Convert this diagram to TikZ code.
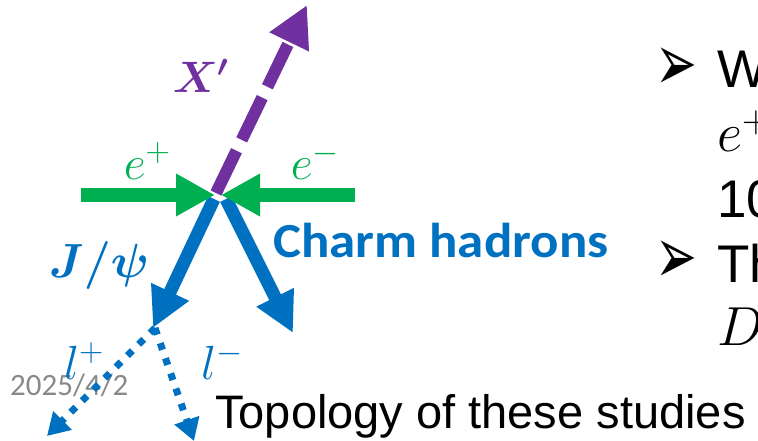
\RequirePackage{fix-cm}
\documentclass[tikz,border=0pt]{standalone}
\usepackage{amsmath,bm}
\usepackage{fontspec}
\newfontfamily\arialf{Liberation Sans}
\newfontfamily\calf{Carlito}
\newfontfamily\dingf{DejaVu Sans}
\usetikzlibrary{arrows.meta}
\definecolor{egreen}{RGB}{0,176,80}
\definecolor{dpurple}{RGB}{112,48,160}
\definecolor{hblue}{RGB}{0,112,192}
\definecolor{dgrey}{RGB}{137,137,137}

\begin{document}
\begin{tikzpicture}[x=1pt,y=-1pt,every node/.style={inner sep=0pt}]
\tikzstyle{beam}=[line width=13pt,egreen,-{Triangle[length=39pt,width=40pt]}]
\tikzstyle{dark}=[line width=12pt,dpurple,dash pattern=on 47pt off 12pt,-{Triangle[length=41pt,width=41pt]}]
\tikzstyle{prod}=[line width=13pt,hblue,-{Triangle[length=40pt,width=39pt]}]
\tikzstyle{lep}=[line width=7pt,hblue,dash pattern=on 7pt off 9pt,-{Triangle[length=22pt,width=25pt]}]
\tikzstyle{lbl}=[font=\fontsize{48}{50}\selectfont]
\tikzstyle{txt}=[font=\arialf\fontsize{53}{56}\selectfont,anchor=base west]
\tikzstyle{mth}=[font=\fontsize{55}{58}\selectfont,anchor=base west]
\tikzstyle{bul}=[font=\dingf\fontsize{50}{54}\selectfont]
\useasboundingbox (0,0) rectangle (758,441);
\clip (0,0) rectangle (758,441);
% end points round the vertex
\coordinate (ein) at (81,195);   \coordinate (eintip) at (215,195);
\coordinate (eout) at (355,195); \coordinate (eouttip) at (221,195);
\coordinate (xs) at (216,193);   \coordinate (xtip) at (307,5);
\coordinate (js) at (214,199);   \coordinate (jtip) at (153,328);
\coordinate (cs) at (226,199);   \coordinate (ctip) at (293,333);
\coordinate (ls) at (155,328);   \coordinate (lptip) at (47,436);
\coordinate (lmtip) at (194,441);
% texts
\node[dgrey,font=\calf\fontsize{31}{33}\selectfont,anchor=base west] (date) at (10,395) {2025/4/2};
\node[font=\fontsize{44}{46}\selectfont,dpurple] (xp) at (201,76) {$\bm{X'}$};
\node[lbl,egreen] (ep) at (147,161) {$e^+$};
\node[lbl,egreen] (em) at (315,161) {$e^-$};
\node[lbl,hblue] (jpsi) at (99,265) {$\bm{J/\psi}$};
\node[hblue,font=\calf\bfseries\fontsize{49}{52}\selectfont,anchor=base west] (ch) at (273,257) {\scalebox{1.08}[1]{Charm hadrons}};
\node[lbl,hblue] (lp) at (84,361) {$l^+$};
\node[lbl,hblue] (lm) at (222,361) {$l^-$};
\node[font=\arialf\fontsize{47}{50}\selectfont,anchor=base west] (topo) at (215,428) {Topology of these studies};
% cut-off column on the right
\node[bul] (b1) at (676,69) {\scalebox{1}[1.6]{➢}};
\node[txt] (w) at (717,88) {W};
\node[mth] (ee) at (717,152) {$e^+$};
\node[txt] (ten) at (717,217) {10};
\node[bul] (b2) at (676,262) {\scalebox{1}[1.6]{➢}};
\node[txt] (th) at (717,282) {Th};
\node[mth] (ds) at (717,345) {$D_s$};
% arrows
\draw[prod] (js)--(jtip);\draw[prod] (cs)--(ctip);
\draw[lep] (ls)--(lptip);\draw[lep] (ls)--(lmtip);
\draw[dark] (xs)--(xtip);
\draw[beam] (ein)--(eintip);\draw[beam] (eout)--(eouttip);
\end{tikzpicture}
\end{document}
